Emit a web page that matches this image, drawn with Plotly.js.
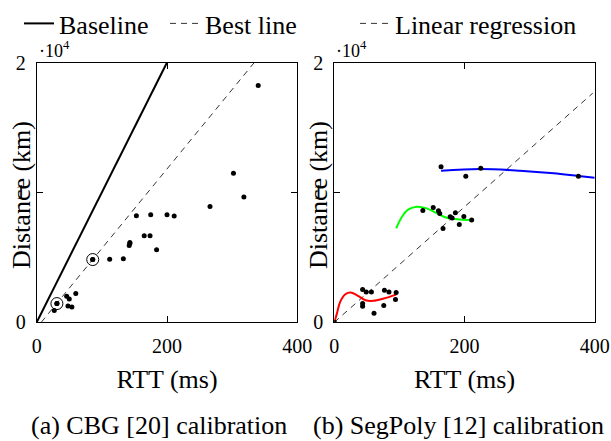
<!DOCTYPE html>
<html>
<head>
<meta charset="utf-8">
<script src="https://cdn.plot.ly/plotly-3.0.1.min.js"></script>
<style>html,body{margin:0;padding:0;background:#fff;}#chart{width:611px;height:441px;}</style>
</head>
<body>
<div id="chart"></div>
<script>
// ---- data ----
// Panel (a): CBG calibration
const cbgRtt  = [340, 302, 318, 266, 153, 175, 200, 211, 165, 174, 143, 143, 142, 184, 112, 133, 86, 60, 46, 50, 48, 54, 31, 27];
const cbgDist = [18230, 11470, 9640, 8920, 8200, 8280, 8280, 8180, 6660, 6660, 6150, 6070, 5910, 5580, 4860, 4890, 4830, 2210, 2010, 1800, 1260, 1180, 1440, 900];
const cbgCircledRtt  = [31, 86];
const cbgCircledDist = [1440, 4830];
const baselineRtt  = [0, 200];
const baselineDist = [0, 20000];
const bestLineRtt  = [7, 334];
const bestLineDist = [0, 20000];

// Panel (b): SegPoly calibration
const segRtt  = [0, 43.5, 49, 57, 43.5, 43.5, 61, 77, 84, 95, 76, 94, 136, 152, 160, 162, 167, 178, 181, 186, 192, 199, 211, 164, 225, 202, 375];
const segDist = [0, 2520, 2340, 2340, 1440, 1240, 690, 2470, 2340, 2290, 1290, 1750, 8610, 8840, 8590, 8380, 7230, 8120, 8020, 8430, 7530, 8150, 7870, 11980, 11850, 11240, 11240];
const regRtt  = [0, 397];
const regDist = [0, 17640];
const redRtt    = [0, 4, 9, 17, 25, 35, 48, 60, 76, 95];
const redDist   = [0, 670, 1570, 2160, 2290, 2080, 1700, 1650, 1830, 2130];
const greenRtt  = [95, 104, 114, 127, 142, 158, 173, 193, 212];
const greenDist = [7230, 8130, 8690, 8900, 8770, 8380, 8050, 7920, 7870];
const blueRtt   = [164, 224, 285, 337, 375, 400];
const blueDist  = [11670, 11800, 11670, 11470, 11260, 11130];

const xTickVals = [0, 200, 400];
const xTickText = ['0', '200', '400'];
const yTickVals = [0, 10000, 20000];
const yTickText = ['0', '1', '2'];

// ---- styling ----
const FONT = '"Liberation Serif", "Times New Roman", serif';
const BIG = 26, TICK = 20;
const W = 611, H = 441;
const px = v => v / W;
const py = v => (H - v) / H;

const dash = '6px,5px';

const traces = [
  {x: baselineRtt, y: baselineDist, xaxis: 'x', yaxis: 'y', mode: 'lines', name: 'Baseline',
   line: {color: '#000', width: 2}, legend: 'legend'},
  {x: bestLineRtt, y: bestLineDist, xaxis: 'x', yaxis: 'y', mode: 'lines', name: 'Best line',
   line: {color: '#000', width: 0.8, dash: dash}, legend: 'legend'},
  {x: cbgRtt, y: cbgDist, xaxis: 'x', yaxis: 'y', mode: 'markers', showlegend: false,
   marker: {color: '#000', size: 5}},
  {x: cbgCircledRtt, y: cbgCircledDist, xaxis: 'x', yaxis: 'y', mode: 'markers', showlegend: false,
   marker: {color: '#000', size: 5}},
  {x: cbgCircledRtt, y: cbgCircledDist, xaxis: 'x', yaxis: 'y', mode: 'markers', showlegend: false,
   marker: {symbol: 'circle-open', color: '#000', size: 12, line: {width: 1, color: '#000'}}},

  {x: regRtt, y: regDist, xaxis: 'x2', yaxis: 'y2', mode: 'lines', name: 'Linear regression',
   line: {color: '#000', width: 0.8, dash: dash}, legend: 'legend2'},
  {x: redRtt, y: redDist, xaxis: 'x2', yaxis: 'y2', mode: 'lines', showlegend: false,
   line: {color: '#ff0000', width: 2, shape: 'spline', smoothing: 1}},
  {x: greenRtt, y: greenDist, xaxis: 'x2', yaxis: 'y2', mode: 'lines', showlegend: false,
   line: {color: '#00ff00', width: 2, shape: 'spline', smoothing: 1}},
  {x: blueRtt, y: blueDist, xaxis: 'x2', yaxis: 'y2', mode: 'lines', showlegend: false,
   line: {color: '#0000ff', width: 2, shape: 'spline', smoothing: 1}},
  {x: segRtt, y: segDist, xaxis: 'x2', yaxis: 'y2', mode: 'markers', showlegend: false,
   marker: {color: '#000', size: 5}}
];

function xAxis(domain, anchor) {
  return {
    domain: domain, anchor: anchor, range: [0, 400],
    tickmode: 'array', tickvals: xTickVals, ticktext: xTickText,
    ticks: 'inside', ticklen: 6, tickwidth: 1, tickcolor: '#000',
    mirror: 'allticks', showline: true, linecolor: '#000', linewidth: 1,
    showgrid: false, zeroline: false, ticklabelstandoff: 6,
    tickfont: {family: FONT, size: TICK, color: '#000'},
    title: {text: 'RTT (ms)', font: {family: FONT, size: BIG, color: '#000'}, standoff: 13}
  };
}
function yAxis(domain, anchor) {
  return {
    domain: domain, anchor: anchor, range: [0, 20000],
    tickmode: 'array', tickvals: yTickVals, ticktext: yTickText,
    ticks: 'inside', ticklen: 6, tickwidth: 1, tickcolor: '#000',
    mirror: 'allticks', showline: true, linecolor: '#000', linewidth: 1,
    showgrid: false, zeroline: false, ticklabelstandoff: 6,
    tickfont: {family: FONT, size: TICK, color: '#000'}
  };
}

const yDom = [py(322.3), py(62.5)];
const layout = {
  width: W, height: H,
  margin: {l: 0, r: 0, t: 0, b: 0},
  paper_bgcolor: '#fff', plot_bgcolor: '#fff',
  font: {family: FONT, color: '#000'},
  showlegend: true,
  xaxis: xAxis([px(36.7), px(297.3)], 'y'),
  yaxis: yAxis(yDom, 'x'),
  xaxis2: xAxis([px(334.3), px(594.7)], 'y2'),
  yaxis2: yAxis(yDom, 'x2'),
  legend: {orientation: 'h', x: px(19), xanchor: 'left', y: 1, yanchor: 'top',
    font: {family: FONT, size: BIG, color: '#000'}, bgcolor: 'rgba(0,0,0,0)',
    entrywidthmode: 'pixels', entrywidth: 101, borderwidth: 0},
  legend2: {orientation: 'h', x: px(355), xanchor: 'left', y: 1, yanchor: 'top',
    font: {family: FONT, size: BIG, color: '#000'}, bgcolor: 'rgba(0,0,0,0)', borderwidth: 0},
  annotations: [
    {text: '·10<sup>4</sup>', xref: 'paper', yref: 'paper', x: px(37), y: py(50), xanchor: 'left', yanchor: 'middle',
     showarrow: false, font: {family: FONT, size: 18, color: '#000'}},
    {text: '·10<sup>4</sup>', xref: 'paper', yref: 'paper', x: px(334.3), y: py(50), xanchor: 'left', yanchor: 'middle',
     showarrow: false, font: {family: FONT, size: 18, color: '#000'}},
    {text: 'Distance (km)', xref: 'paper', yref: 'paper', x: px(21), y: py(195), textangle: -90,
     xanchor: 'center', yanchor: 'middle', showarrow: false, font: {family: FONT, size: BIG, color: '#000'}},
    {text: 'Distance (km)', xref: 'paper', yref: 'paper', x: px(318), y: py(195), textangle: -90,
     xanchor: 'center', yanchor: 'middle', showarrow: false, font: {family: FONT, size: BIG, color: '#000'}},
    {text: '(a) CBG [20] calibration', xref: 'paper', yref: 'paper', x: px(159), y: py(425),
     xanchor: 'center', yanchor: 'middle', showarrow: false, font: {family: FONT, size: BIG, color: '#000'}},
    {text: '(b) SegPoly [12] calibration', xref: 'paper', yref: 'paper', x: px(458), y: py(425),
     xanchor: 'center', yanchor: 'middle', showarrow: false, font: {family: FONT, size: BIG, color: '#000'}}
  ]
};

Plotly.newPlot('chart', traces, layout, {displayModeBar: false, staticPlot: true});
</script>
</body>
</html>
